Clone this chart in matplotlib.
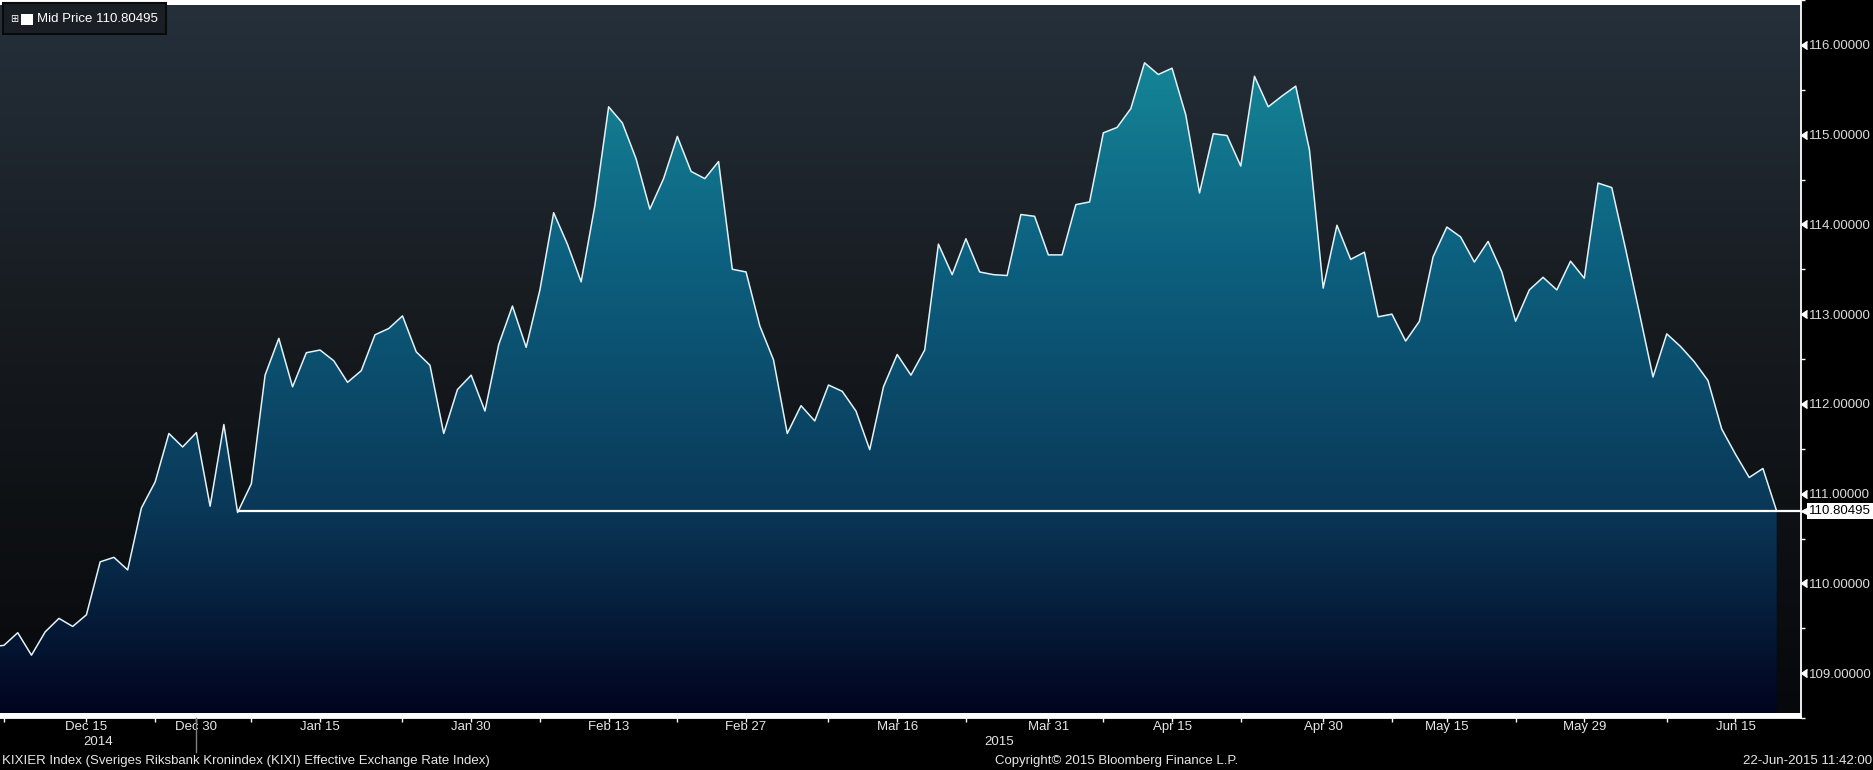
import numpy as np
import matplotlib
matplotlib.use("Agg")
import matplotlib.pyplot as plt
import matplotlib.transforms as mtransforms
from matplotlib.colors import LinearSegmentedColormap
from matplotlib.patches import Rectangle
from matplotlib.lines import Line2D

# KIXIER mid price, one value per trading day (first value enters from off-chart)
prices = [
    109.29,
    109.31, 109.45, 109.20, 109.46, 109.61, 109.52, 109.65, 110.24, 110.29, 110.15,
    110.84, 111.13, 111.67, 111.52, 111.68, 110.86, 111.77, 110.79, 111.11, 112.32,
    112.73, 112.19, 112.57, 112.60, 112.48, 112.24, 112.37, 112.77, 112.84, 112.98,
    112.58, 112.43, 111.67, 112.16, 112.32, 111.92, 112.66, 113.09, 112.63, 113.27,
    114.13, 113.78, 113.36, 114.21, 115.31, 115.13, 114.73, 114.17, 114.51, 114.98,
    114.59, 114.51, 114.70, 113.50, 113.47, 112.87, 112.49, 111.67, 111.98, 111.81,
    112.21, 112.14, 111.92, 111.49, 112.19, 112.55, 112.32, 112.60, 113.78, 113.44,
    113.84, 113.47, 113.44, 113.43, 114.11, 114.09, 113.66, 113.66, 114.22, 114.25,
    115.02, 115.08, 115.29, 115.80, 115.67, 115.74, 115.22, 114.35, 115.01, 114.99,
    114.65, 115.65, 115.31, 115.43, 115.54, 114.83, 113.29, 113.99, 113.61, 113.69,
    112.97, 113.00, 112.70, 112.92, 113.64, 113.97, 113.86, 113.58, 113.81, 113.47,
    112.92, 113.27, 113.41, 113.27, 113.59, 113.40, 114.46, 114.41, 113.73, 113.02,
    112.30, 112.78, 112.64, 112.47, 112.26, 111.72, 111.44, 111.18, 111.28, 110.80495,
]

tick_pos = [7, 15, 24, 35, 45, 55, 66, 77, 86, 97, 106, 116, 127]
tick_labels = ["Dec 15", "Dec 30", "Jan 15", "Jan 30", "Feb 13", "Feb 27", "Mar 16",
               "Mar 31", "Apr 15", "Apr 30", "May 15", "May 29", "Jun 15"]
minor_pos = [1, 12, 19, 30, 40, 50, 61, 71, 81, 91, 102, 111, 122]
year_labels = ["2014", "2015"]
year_break = 15

y_major = [109, 110, 111, 112, 113, 114, 115, 116]
y_minor = [108.5, 109.5, 110.5, 111.5, 112.5, 113.5, 114.5, 115.5, 116.5]

FONT = ["Liberation Sans", "DejaVu Sans"]
plt.rcParams["font.family"] = FONT
FS = 9.5

W, H = 1874, 770
fig = plt.figure(figsize=(W / 100, H / 100), dpi=100, facecolor="black")
ax = fig.add_axes([0, 1 - 718 / H, 1801 / W, 718 / H])

x = np.arange(len(prices))
y = np.array(prices)
last = y[-1]
x0, x1 = 0.71, 131.77
y0, y1 = 108.553, 116.439
ax.set_xlim(x0, x1)
ax.set_ylim(y0, y1)

# background gradient
bg_cmap = LinearSegmentedColormap.from_list(
    "bg", [(0.0, "#07080b"), (0.3, "#0f1215"), (0.6, "#181d22"), (1.0, "#25303b")])
grad = np.linspace(0, 1, 256).reshape(-1, 1)
ax.imshow(grad, extent=[x0, x1, y0, y1], origin="lower", aspect="auto",
          cmap=bg_cmap, zorder=0, interpolation="bilinear")

# area gradient, clipped to the area under the curve
fill_cmap = LinearSegmentedColormap.from_list(
    "fill", [(0.0, "#01041f"), (0.29, "#0a3858"), (0.65, "#0d6180"),
             (0.92, "#158596"), (1.0, "#178a9b")])
poly = ax.fill_between(x, y, y0, facecolor="none", edgecolor="none")
im = ax.imshow(grad, extent=[x0, x1, y0, y1], origin="lower", aspect="auto",
               cmap=fill_cmap, zorder=1, interpolation="bilinear")
im.set_clip_path(poly.get_paths()[0], transform=ax.transData)

ax.plot(x, y, color="#e4f2f6", lw=1.1, zorder=3)

# last price line from the last time the price was at this level
start = max(i for i in range(len(y) - 1) if y[i] <= last)
ax.hlines(last, x[start], x1, color="white", lw=1.6, zorder=4)

for s in ["top", "left"]:
    ax.spines[s].set_visible(False)
for s in ["right", "bottom"]:
    ax.spines[s].set_color("white")
    ax.spines[s].set_linewidth(1.3)

# x axis
ax.set_xticks(tick_pos)
ax.set_xticklabels(tick_labels)
ax.set_xticks(minor_pos, minor=True)
ax.tick_params(axis="x", which="both", direction="out", length=3, width=1,
               color="white", labelcolor="#e6e6e6", labelsize=FS, pad=-0.5)

# y axis on the right
ax.yaxis.tick_right()
ax.set_yticks(y_major)
ax.set_yticklabels([f"{v:.5f}" for v in y_major])
ax.set_yticks(y_minor, minor=True)
ax.tick_params(axis="y", which="major", length=0, pad=5.5,
               labelcolor="#dcdcdc", labelsize=FS)
ax.tick_params(axis="y", which="minor", direction="out", length=3, width=1,
               color="white")
ax.plot([1.0] * len(y_major), y_major, transform=ax.get_yaxis_transform(),
        ls="none", marker=4, ms=5.5, color="white", clip_on=False, zorder=5)

# last value tag
tip = mtransforms.offset_copy(ax.get_yaxis_transform(), fig=fig, x=5, y=0, units="dots")
ax.plot([1.0], [last], transform=tip, ls="none", marker="<", ms=7,
        color="white", clip_on=False, zorder=6)
ax.annotate(f"{last:.5f}", xy=(1.0, last), xycoords=ax.get_yaxis_transform(),
            xytext=(8, 0), textcoords="offset pixels", ha="left", va="center",
            fontsize=FS, color="black", zorder=7,
            bbox=dict(boxstyle="square,pad=0.15", fc="white", ec="none"))

# year labels and separator
xt = mtransforms.blended_transform_factory(ax.transData, fig.transFigure)
fig.text((x0 + year_break) / 2, 1 - 742 / H, year_labels[0], transform=xt,
         ha="center", va="center", color="#e6e6e6", fontsize=FS)
fig.text((year_break + x1) / 2, 1 - 742 / H, year_labels[1], transform=xt,
         ha="center", va="center", color="#e6e6e6", fontsize=FS)
fig.add_artist(Line2D([year_break, year_break], [1 - 718 / H, 1 - 752 / H],
                      transform=xt, color="#808080", lw=1))

# legend box
fig.add_artist(Rectangle((3 / W, 1 - 34 / H), 163 / W, 31 / H, transform=fig.transFigure,
                         fc="#1a1f25", ec="#080a0c", lw=1.5))
fig.text(14.5 / W, 1 - 18.5 / H, "\u229e", ha="center", va="center", color="white",
         fontsize=7, family="DejaVu Sans")
fig.add_artist(Rectangle((21.5 / W, 1 - 25 / H), 11 / W, 11.5 / H,
                         transform=fig.transFigure, fc="white", ec="none"))
fig.text(37 / W, 1 - 19 / H, f"Mid Price {last:.5f}", ha="left", va="center",
         color="white", fontsize=FS)

# footer
fig.text(2 / W, 1 - 761 / H, "KIXIER Index (Sveriges Riksbank Kronindex (KIXI) Effective Exchange Rate Index)",
         ha="left", va="center", color="#e6e6e6", fontsize=FS)
fig.text(995 / W, 1 - 761 / H, "Copyright\u00a9 2015 Bloomberg Finance L.P.",
         ha="left", va="center", color="#e6e6e6", fontsize=FS)
fig.text(1872 / W, 1 - 761 / H, "22-Jun-2015 11:42:00",
         ha="right", va="center", color="#e6e6e6", fontsize=FS)

fig.savefig("out.png", dpi=100, facecolor="black")
